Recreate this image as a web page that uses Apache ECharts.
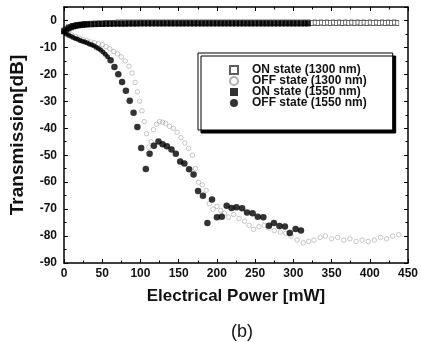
<!DOCTYPE html>
<html><head><meta charset="utf-8">
<script src="https://cdn.jsdelivr.net/npm/echarts@6/dist/echarts.min.js"></script>
<style>html,body{margin:0;padding:0;background:#fff}#c{width:421px;height:342px}</style>
</head><body><div id="c"></div>
<script>
var seriesNames = ['ON state (1300 nm)', 'OFF state (1300 nm)', 'ON state (1550 nm)', 'OFF state (1550 nm)'];
var xTickLabels = [0, 50, 100, 150, 200, 250, 300, 350, 400, 450];
var yTickLabels = [-90, -80, -70, -60, -50, -40, -30, -20, -10, 0];

var on1300 = [[0,-3.6],[5,-2.6],[10,-2.1],[15,-1.8],[20,-1.6],[25,-1.4],[30,-1.3],[35,-1.2],[40,-1.1],[45,-1.0],[50,-1.0],[55,-0.9],[60,-0.9],[65,-0.9],[70,-0.8],[75,-0.8],[80,-0.8],[85,-0.8],[90,-0.8],[95,-0.8],[100,-0.8],[105,-0.8],[110,-0.8],[115,-0.8],[120,-0.8],[125,-0.8],[130,-0.8],[135,-0.8],[140,-0.8],[145,-0.8],[150,-0.8],[155,-0.8],[160,-0.8],[165,-0.8],[170,-0.8],[175,-0.8],[180,-0.8],[185,-0.8],[190,-0.8],[195,-0.8],[200,-0.8],[205,-0.8],[210,-0.8],[215,-0.8],[220,-0.8],[225,-0.8],[230,-0.8],[235,-0.8],[240,-0.8],[245,-0.8],[250,-0.8],[255,-0.8],[260,-0.8],[265,-0.8],[270,-0.8],[275,-0.8],[280,-0.8],[285,-0.8],[290,-0.8],[295,-0.8],[300,-0.8],[305,-0.8],[310,-0.8],[315,-0.8],[320,-0.8],[324,-0.9],[328,-0.8],[332,-0.9],[336,-0.8],[340,-0.9],[344,-0.8],[348,-0.9],[352,-0.8],[356,-0.9],[360,-0.8],[364,-0.9],[368,-0.8],[372,-0.9],[376,-0.8],[380,-0.9],[384,-0.8],[388,-0.9],[392,-0.8],[396,-0.9],[400,-0.8],[404,-0.9],[408,-0.8],[412,-0.9],[416,-0.8],[420,-0.9],[424,-0.8],[428,-0.9],[432,-0.8],[436,-0.9]];

var off1300 = [[0,-4],[5,-4.6],[10,-5.3],[15,-5.9],[20,-6.5],[25,-7],[30,-7.5],[35,-8],[40,-8.3],[45,-8.6],[50,-9],[55,-9.7],[60,-10.5],[65,-11.5],[70,-12.4],[75,-13.5],[80,-15],[85,-17],[89,-19.5],[93,-23],[96,-26.5],[99,-30],[102,-33.5],[105,-37.5],[108,-42],[111,-47],[114,-45],[117,-40.5],[121,-38.5],[125,-37.5],[129,-37.8],[133,-38.2],[138,-39.3],[143,-40],[148,-41.5],[153,-43.5],[158,-45.5],[163,-47.5],[168,-50],[172,-55],[176,-60],[181,-61],[186,-63],[190,-68],[195,-70],[200,-69],[205,-70.5],[210,-71.5],[215,-73],[222,-72],[229,-73.5],[236,-74.5],[242,-76],[248,-77.5],[255,-76.5],[262,-76],[268,-77],[275,-78],[283,-78.5],[290,-79],[297,-80],[305,-81.5],[313,-82.5],[320,-82],[327,-81.5],[335,-80.5],[342,-80],[350,-81],[358,-80.5],[366,-81.5],[374,-81],[382,-82],[390,-81.5],[398,-82],[406,-81.5],[414,-80.5],[422,-81],[430,-80],[438,-79.5]];

var on1550 = [[0,-4],[3,-3.4],[6,-2.9],[9,-2.5],[12,-2.2],[15,-2.0],[18,-1.8],[21,-1.7],[24,-1.6],[27,-1.5],[30,-1.45],[35,-1.4],[40,-1.35],[45,-1.3],[50,-1.3],[55,-1.25],[60,-1.25],[65,-1.2],[70,-1.2],[75,-1.2],[80,-1.2],[85,-1.15],[90,-1.15],[95,-1.15],[100,-1.1],[105,-1.1],[110,-1.1],[115,-1.1],[120,-1.1],[125,-1.1],[130,-1.1],[135,-1.1],[140,-1.1],[145,-1.1],[150,-1.1],[155,-1.1],[160,-1.1],[165,-1.1],[170,-1.1],[175,-1.1],[180,-1.1],[185,-1.1],[190,-1.1],[195,-1.1],[200,-1.1],[205,-1.1],[210,-1.1],[215,-1.1],[220,-1.1],[225,-1.1],[230,-1.1],[235,-1.1],[240,-1.1],[245,-1.1],[250,-1.1],[255,-1.1],[260,-1.1],[265,-1.1],[270,-1.1],[275,-1.1],[280,-1.1],[285,-1.1],[290,-1.1],[295,-1.1],[300,-1.1],[305,-1.1],[310,-1.1],[315,-1.1],[319,-1.1]];

var off1550 = [[0,-4.3],[3,-5],[6,-5.5],[9,-5.9],[12,-6.3],[15,-6.7],[18,-7],[21,-7.4],[24,-7.7],[27,-8],[30,-8.3],[33,-8.7],[36,-9],[39,-9.4],[42,-9.9],[45,-10.4],[48,-11],[51,-11.7],[54,-12.5],[57,-13.5],[61,-14.8],[66,-17.3],[71,-20],[76,-22.8],[81,-26.1],[86,-29.8],[91,-34.2],[96,-39.5],[101,-47.3],[107,-55.1],[112,-49.5],[117.6,-46.5],[123.6,-44.9],[129,-45.9],[134.6,-46.7],[140.6,-47.9],[146.3,-49.5],[152,-52.3],[157.5,-53.1],[163.7,-55.2],[169.5,-57.2],[175.4,-63.3],[181.8,-65],[187.6,-75.2],[193.6,-66.4],[200,-73],[206.4,-72.8],[212.8,-68.8],[219.2,-69.6],[225.6,-69.3],[233,-69.7],[239.4,-71.3],[246.7,-71.5],[253.5,-72.8],[260.8,-73],[268,-76.2],[274.6,-75.2],[281.8,-76.3],[289,-76.5],[295.4,-78.9],[303,-77.4],[310,-77.9]];

var FONT = "'Liberation Sans', Arial, sans-serif";
var chart = echarts.init(document.getElementById('c'), null, {renderer: 'canvas'});
var axisLine = {show: true, onZero: false, lineStyle: {color: '#000', width: 1.5}};
chart.setOption({
  animation: false,
  backgroundColor: '#fff',
  title: {text: '(b)', left: 226, top: 318, textStyle: {fontFamily: FONT, fontWeight: 'normal', fontSize: 18, color: '#111'}},
  grid: {left: 62, right: 11, top: 7, bottom: 79},
  legend: {
    orient: 'vertical', left: 198, top: 53,
    padding: [11, 26, 21, 31],
    itemWidth: 8, itemHeight: 8, itemGap: -1,
    backgroundColor: '#fff', borderColor: '#000', borderWidth: 1,
    shadowColor: '#000', shadowBlur: 0, shadowOffsetX: 3, shadowOffsetY: 3,
    textStyle: {fontFamily: FONT, fontWeight: 'bold', fontSize: 12, color: '#111', padding: [0, 0, 0, 9]},
    data: seriesNames
  },
  xAxis: [{
    type: 'value', min: 0, max: 450, interval: 50,
    name: 'Electrical Power [mW]', nameLocation: 'middle', nameGap: 25,
    nameTextStyle: {fontFamily: FONT, fontWeight: 'bold', fontSize: 17, color: '#111'},
    axisLine: axisLine,
    axisTick: {inside: true, length: 4, lineStyle: {color: '#000', width: 1}},
    minorTick: {show: true, splitNumber: 2, length: 2.5, lineStyle: {color: '#000'}},
    splitLine: {show: false},
    axisLabel: {fontFamily: FONT, fontWeight: 'bold', fontSize: 12, color: '#111', margin: 5,
      formatter: function (v) { return xTickLabels.indexOf(v) >= 0 ? String(v) : ''; }}
  }, {
    type: 'value', position: 'top', min: 0, max: 450, interval: 50,
    axisLine: axisLine,
    axisTick: {inside: true, length: 4, lineStyle: {color: '#000'}},
    minorTick: {show: true, splitNumber: 2, length: 2.5, lineStyle: {color: '#000'}},
    splitLine: {show: false}, axisLabel: {show: false}
  }],
  yAxis: [{
    type: 'value', min: -90, max: 5, interval: 10,
    name: 'Transmission[dB]', nameLocation: 'middle', nameGap: 37,
    nameTextStyle: {fontFamily: FONT, fontWeight: 'bold', fontSize: 19, color: '#111'},
    axisLine: axisLine,
    axisTick: {inside: true, length: 4, lineStyle: {color: '#000'}},
    minorTick: {show: true, splitNumber: 2, length: 2.5, lineStyle: {color: '#000'}},
    splitLine: {show: false},
    axisLabel: {fontFamily: FONT, fontWeight: 'bold', fontSize: 12, color: '#111', margin: 7, showMaxLabel: false,
      formatter: function (v) { return yTickLabels.indexOf(v) >= 0 ? String(v) : ''; }}
  }, {
    type: 'value', position: 'right', min: -90, max: 5, interval: 10,
    axisLine: axisLine,
    axisTick: {inside: true, length: 4, lineStyle: {color: '#000'}},
    minorTick: {show: true, splitNumber: 2, length: 2.5, lineStyle: {color: '#000'}},
    splitLine: {show: false}, axisLabel: {show: false}
  }],
  series: [
    {name: seriesNames[0], type: 'scatter', data: on1300, symbol: 'rect', symbolSize: [3, 5],
      itemStyle: {color: '#fff', borderColor: '#333', borderWidth: 0.8}, z: 2},
    {name: seriesNames[1], type: 'scatter', data: off1300, symbol: 'circle', symbolSize: 4.5,
      itemStyle: {color: 'rgba(255,255,255,0)', borderColor: '#9a9a9a', borderWidth: 0.7}, z: 2},
    {name: seriesNames[2], type: 'scatter', data: on1550, symbol: 'rect', symbolSize: 6,
      itemStyle: {color: '#000'}, z: 3},
    {name: seriesNames[3], type: 'scatter', data: off1550, symbol: 'circle',
      symbolSize: function (v) { return v[0] < 58 ? 5 : 6.5; },
      itemStyle: {color: '#000'}, z: 4}
  ]
});
</script></body></html>
